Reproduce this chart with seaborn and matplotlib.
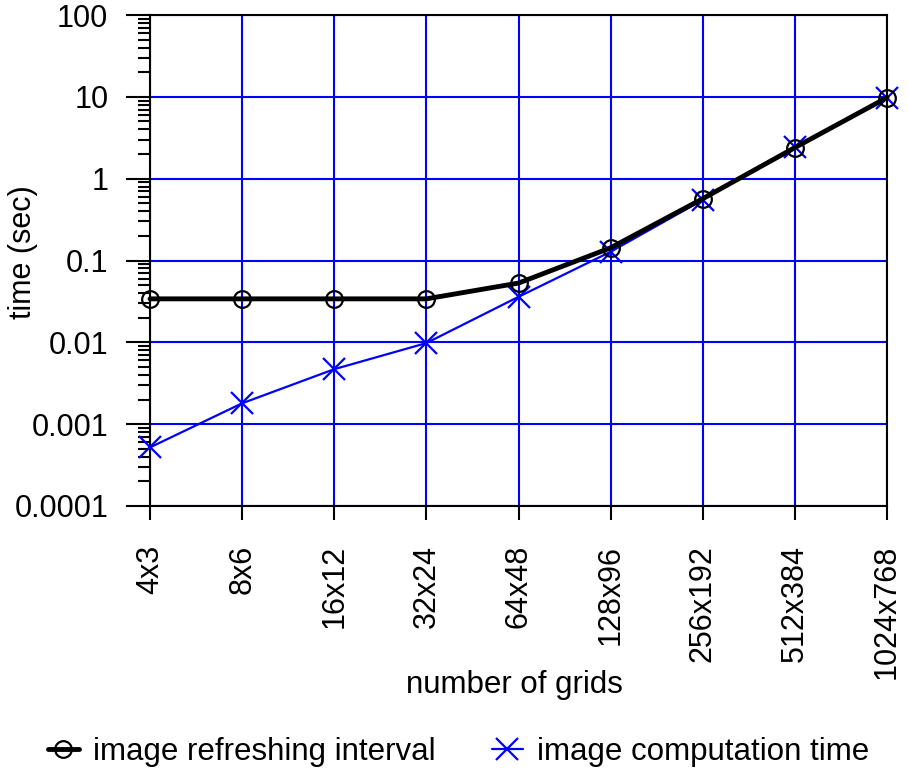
import numpy as np
import pandas as pd
import matplotlib
matplotlib.use("Agg")
import matplotlib.pyplot as plt
import seaborn as sns
from matplotlib.ticker import LogLocator, NullFormatter, FixedFormatter, FixedLocator

# --- DATA ---
grids = ["4x3", "8x6", "16x12", "32x24", "64x48", "128x96", "256x192", "512x384", "1024x768"]
refresh_interval = [0.034, 0.034, 0.034, 0.034, 0.053, 0.143, 0.57, 2.4, 9.8]
compute_time = [0.00052, 0.0018, 0.0047, 0.0098, 0.036, 0.128, 0.55, 2.45, 9.8]
y_ticks = [0.0001, 0.001, 0.01, 0.1, 1, 10, 100]
y_labels = ["0.0001", "0.001", "0.01", "0.1", "1", "10", "100"]
series_names = ["image refreshing interval", "image computation time"]

sns.set_style("white")
plt.rcParams['font.family'] = ['Liberation Sans', 'DejaVu Sans']
for k in ["text.color", "axes.labelcolor", "xtick.color", "ytick.color"]:
    plt.rcParams[k] = "black"

fig = plt.figure(figsize=(9.08, 7.75), dpi=100)
ax = fig.add_axes([0.1652, 0.3471, 0.8117, 0.6335])

x = np.arange(len(grids))
sns.lineplot(x=x, y=compute_time, ax=ax, color="blue", linewidth=1.6,
             marker="x", markersize=16, markeredgewidth=1.6,
             markeredgecolor="blue", legend=False, zorder=3, clip_on=False)
sns.lineplot(x=x, y=refresh_interval, ax=ax, color="black", linewidth=3.5,
             marker="o", markersize=12, markerfacecolor="none",
             markeredgecolor="black", markeredgewidth=1.6,
             legend=False, zorder=4, clip_on=False)

ax.set_yscale("log")
ax.set_ylim(0.0001, 100)
ax.set_xlim(0, len(grids) - 1)
ax.yaxis.set_major_locator(FixedLocator(y_ticks))
ax.yaxis.set_major_formatter(FixedFormatter(y_labels))
ax.yaxis.set_minor_locator(LogLocator(base=10, subs=np.arange(2, 10)))
ax.yaxis.set_minor_formatter(NullFormatter())
ax.set_xticks(x)
ax.set_xticklabels(grids, rotation=90)

ax.grid(True, which="major", color="blue", linewidth=1.5)
ax.set_axisbelow(True)
for s in ax.spines.values():
    s.set_color("black")
    s.set_linewidth(1.5)

ax.tick_params(axis="y", which="major", direction="out", length=17, width=1.5,
               labelsize=22, left=True, pad=13)
ax.tick_params(axis="y", which="minor", direction="out", length=9, width=1.5, left=True)
ax.tick_params(axis="x", which="major", direction="out", length=10, width=1.5,
               labelsize=22, bottom=True, pad=18)

ax.set_xlabel("number of grids", fontsize=22.5)
ax.xaxis.set_label_coords(0.495, -0.335)
ax.set_ylabel("time (sec)", fontsize=22)
ax.yaxis.set_label_coords(-0.152, 0.517)

blue_line, black_line = ax.lines[0], ax.lines[1]
fig.legend(handles=[black_line, blue_line], labels=series_names,
           loc="center", bbox_to_anchor=(0.505, 0.03), ncol=2, frameon=False,
           fontsize=22.5, handlelength=1.0, columnspacing=1.8, handletextpad=0.45)

fig.savefig("out.png", dpi=100)
